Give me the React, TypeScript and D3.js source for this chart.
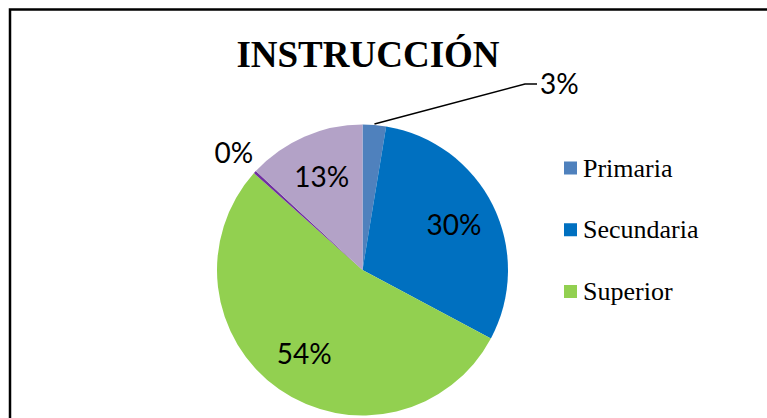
import React from "react";
import * as d3 from "d3";

const title = "INSTRUCCIÓN";
const categories = ["Primaria", "Secundaria", "Superior", "Ninguna", "Técnica"];
const values = [2.6, 30.2, 53.8, 0.3, 13.1];
const colors = ["#4F81BD", "#0070C0", "#92D050", "#7030A0", "#B3A2C7"];
const legendCount = 3;

const W = 767;
const H = 418;
const cx = 362.5;
const cy = 270;
const R = 145.5;

export default function App() {
  const total = d3.sum(values);
  const pie = d3.pie<number>().sort(null).value((d) => d)(values);
  const arc = d3.arc<d3.PieArcDatum<number>>().innerRadius(0).outerRadius(R);
  const pct = (v: number) => `${Math.round((v / total) * 100)}%`;
  const mid = (a: d3.PieArcDatum<number>) => (a.startAngle + a.endAngle) / 2;
  const polar = (ang: number, r: number): [number, number] => [Math.sin(ang) * r, -Math.cos(ang) * r];

  const legendY = d3.scalePoint<number>().domain(d3.range(legendCount)).range([168, 291.5]);

  return (
    <svg width={W} height={H} style={{ position: "absolute", left: 0, top: 0 }}>
      <rect x={0} y={0} width={W} height={H} fill="#fff" />
      <rect x={10} y={9.5} width={W + 20} height={H + 20} fill="none" stroke="#000" strokeWidth={2.5} />
      <text x={368} y={67} textAnchor="middle" fontFamily="'Liberation Serif', 'Times New Roman', serif" fontWeight="bold" fontSize={37}>
        {title}
      </text>
      <g transform={`translate(${cx},${cy})`}>
        {pie.map((a, i) => (
          <path key={i} d={arc(a) || ""} fill={colors[i]} />
        ))}
        {pie.map((a, i) => {
          const m = mid(a);
          const share = a.value / total;
          const style = { fontFamily: "Lato, 'Open Sans', sans-serif", fontSize: 28, fill: "#000" };
          if (share < 0.01) {
            const [x, y] = polar(m, 174);
            return (
              <text key={i} x={x} y={y} dy="0.36em" textAnchor="middle" style={style}>
                {pct(a.value)}
              </text>
            );
          }
          if (share < 0.05) {
            const [sx, sy] = polar(m, R + 1);
            const ex = 162.5;
            const ey = -186;
            return (
              <g key={i}>
                <polyline points={`${sx},${sy} ${ex},${ey} ${ex + 12},${ey}`} fill="none" stroke="#000" strokeWidth={1.5} />
                <text x={ex + 15} y={ey} dy="0.36em" style={style}>
                  {pct(a.value)}
                </text>
              </g>
            );
          }
          const [x, y] = polar(m, 102);
          return (
            <text key={i} x={x} y={y} dy="0.36em" textAnchor="middle" style={style}>
              {pct(a.value)}
            </text>
          );
        })}
      </g>
      <g>
        {d3.range(legendCount).map((i) => (
          <g key={i} transform={`translate(564,${legendY(i)})`}>
            <rect x={0} y={-6.5} width={13} height={13} fill={colors[i]} />
            <text x={19} y={0} dy="0.33em" fontFamily="'Liberation Serif', 'Times New Roman', serif" fontSize={26} fill="#000">
              {categories[i]}
            </text>
          </g>
        ))}
      </g>
    </svg>
  );
}
